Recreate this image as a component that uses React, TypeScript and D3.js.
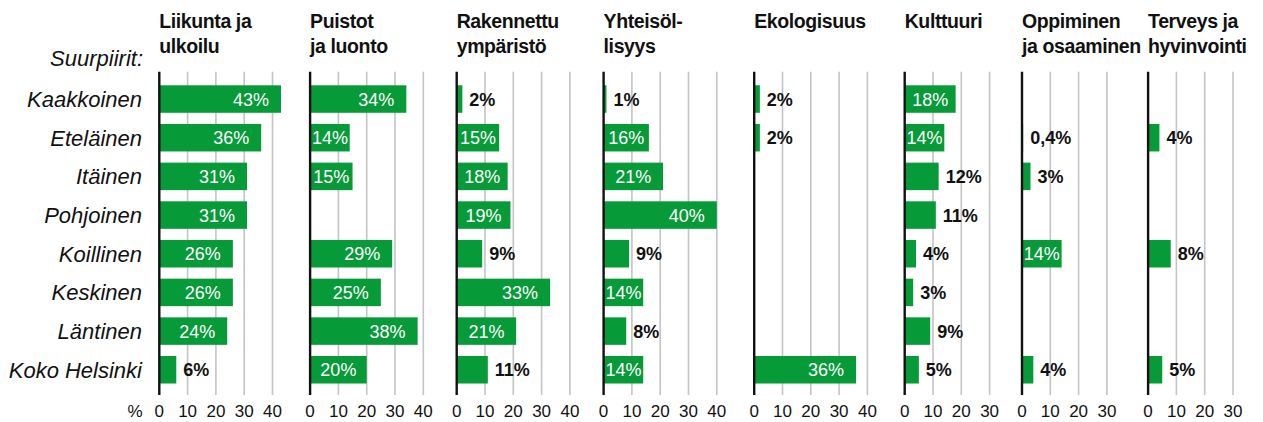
import React from "react";
import * as d3 from "d3";

const districts = [
  "Kaakkoinen",
  "Eteläinen",
  "Itäinen",
  "Pohjoinen",
  "Koillinen",
  "Keskinen",
  "Läntinen",
  "Koko Helsinki",
];

const themeTitles: string[][] = [
  ["Liikunta ja", "ulkoilu"],
  ["Puistot", "ja luonto"],
  ["Rakennettu", "ympäristö"],
  ["Yhteisöl-", "lisyys"],
  ["Ekologisuus"],
  ["Kulttuuri"],
  ["Oppiminen", "ja osaaminen"],
  ["Terveys ja", "hyvinvointi"],
];

const liikunta = [43, 36, 31, 31, 26, 26, 24, 6];
const puistot = [34, 14, 15, null, 29, 25, 38, 20];
const rakennettu = [2, 15, 18, 19, 9, 33, 21, 11];
const yhteisollisyys = [1, 16, 21, 40, 9, 14, 8, 14];
const ekologisuus = [2, 2, null, null, null, null, null, 36];
const kulttuuri = [18, 14, 12, 11, 4, 3, 9, 5];
const oppiminen = [null, 0.4, 3, null, 14, null, null, 4];
const terveys = [null, 4, null, null, 8, null, null, 5];

const seriesValues: (number | null)[][] = [
  liikunta,
  puistot,
  rakennettu,
  yhteisollisyys,
  ekologisuus,
  kulttuuri,
  oppiminen,
  terveys,
];

const axisTicks40 = [0, 10, 20, 30, 40];
const axisTicks30 = [0, 10, 20, 30];
const panelTicks = [axisTicks40, axisTicks40, axisTicks40, axisTicks40, axisTicks40, axisTicks30, axisTicks30, axisTicks30];

// layout
const panelLeft = [159.3, 310.1, 456.7, 603.6, 754.2, 904.7, 1022, 1148.1];
const pxPerUnit = 2.83;
const GREEN = "#079a38";
const FONT = "'Liberation Sans', Arial, sans-serif";

const fmt = (v: number) => String(v).replace(".", ",") + "%";
const approxWidth = (s: string) =>
  s.split("").reduce((a, c) => a + (c === "%" ? 16 : c === "," ? 5 : 10), 0);

export default function App() {
  const W = 1263;
  const H = 422;
  const gridTop = 71.7;
  const gridBottom = 395;

  const y = d3
    .scaleBand<string>()
    .domain(districts)
    .range([79.7, 389.1])
    .paddingInner(0.289)
    .paddingOuter(0.1445);

  return (
    <svg
      width={W}
      height={H}
      style={{ position: "absolute", left: 0, top: 0, background: "#fff" }}
      fontFamily={FONT}
    >
      <rect x={0} y={0} width={W} height={H} fill="#fff" />
      <text x={143} y={66} textAnchor="end" fontStyle="italic" fontSize={22} fill="#111">
        Suurpiirit:
      </text>
      {districts.map((d) => (
        <text
          key={d}
          x={142}
          y={(y(d) ?? 0) + y.bandwidth() / 2}
          dy="0.36em"
          textAnchor="end"
          fontStyle="italic"
          fontSize={22}
          fill="#111"
        >
          {d}
        </text>
      ))}
      <text x={135} y={417} textAnchor="middle" fontSize={17} fill="#111">
        %
      </text>
      {seriesValues.map((vals, pi) => {
        const ticks = panelTicks[pi];
        const maxT = ticks[ticks.length - 1];
        const x0 = panelLeft[pi];
        const x = d3.scaleLinear().domain([0, maxT]).range([x0, x0 + maxT * pxPerUnit]);
        return (
          <g key={pi}>
            {themeTitles[pi].map((line, li) => (
              <text
                key={li}
                x={x0}
                y={28.3 + li * 25}
                fontWeight="bold"
                fontSize={19.5}
                letterSpacing={-0.4}
                fill="#111"
              >
                {line}
              </text>
            ))}
            {ticks
              .filter((t) => t > 0)
              .map((t) => (
                <line
                  key={t}
                  x1={x(t)}
                  x2={x(t)}
                  y1={gridTop}
                  y2={gridBottom}
                  stroke="#c4c4c4"
                  strokeWidth={1.6}
                />
              ))}
            {ticks.map((t) => (
              <text key={"t" + t} x={x(t)} y={417} textAnchor="middle" fontSize={17} fill="#111">
                {t}
              </text>
            ))}
            {vals.map((v, ri) => {
              if (v === null) return null;
              const yy = y(districts[ri]) ?? 0;
              const bw = y.bandwidth();
              const xe = x(v);
              const w = xe - x0;
              const label = fmt(v);
              const tw = approxWidth(label);
              const inside = v >= 13;
              const pad = Math.max(1, Math.min(12, (w - tw) / 2));
              return (
                <g key={ri}>
                  <rect x={x0} y={yy} width={w} height={bw} fill={GREEN} />
                  {inside ? (
                    <text
                      x={xe - pad}
                      y={yy + bw / 2}
                      dy="0.36em"
                      textAnchor="end"
                      fontSize={18}
                      fill="#fff"
                    >
                      {label}
                    </text>
                  ) : (
                    <text
                      x={xe + 7}
                      y={yy + bw / 2}
                      dy="0.36em"
                      fontSize={18}
                      fontWeight="bold"
                      fill="#111"
                    >
                      {label}
                    </text>
                  )}
                </g>
              );
            })}
            <line x1={x0} x2={x0} y1={gridTop} y2={gridBottom} stroke="#111" strokeWidth={2.4} />
          </g>
        );
      })}
    </svg>
  );
}
